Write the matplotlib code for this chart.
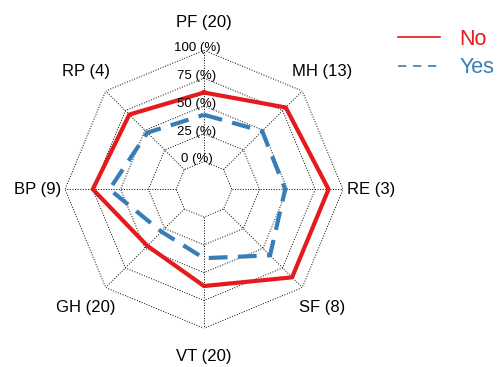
import numpy as np
import matplotlib.pyplot as plt
from matplotlib.lines import Line2D

plt.rcParams['font.family'] = ['Liberation Sans', 'DejaVu Sans']

# domains, clockwise from the top
domains = ["PF (20)", "MH (13)", "RE (3)", "SF (8)", "VT (20)", "GH (20)", "BP (9)", "RP (4)"]
no_vals = [62, 79, 87, 87, 62, 47, 75, 70]
yes_vals = [42, 49, 48, 59, 37, 29, 60, 47]
ring_levels = [0, 25, 50, 75, 100]
ring_labels = ["0 (%)", "25 (%)", "50 (%)", "75 (%)", "100 (%)"]

red = "#e41a1c"
blue = "#377eb8"

n = len(domains)
theta = np.arange(n) * 2 * np.pi / n
theta_c = np.append(theta, theta[0])

fig = plt.figure(figsize=(5, 3.67), dpi=100)
ax = fig.add_axes([0.13, 0.1055, 0.556, 0.7575], projection="polar")
ax.set_theta_zero_location("N")
ax.set_theta_direction(-1)
ax.set_rlim(-25, 100)
ax.grid(False)
ax.spines["polar"].set_visible(False)
ax.set_xticks([])
ax.set_yticks([])

# octagon rings and spokes
for lv in ring_levels:
    ax.plot(theta_c, [lv] * (n + 1), color="black", lw=0.7, ls=":", zorder=1)
for t in theta:
    ax.plot([t, t], [0, 100], color="black", lw=0.7, ls=":", zorder=1)

for lv, lab in zip(ring_levels, ring_labels):
    ax.annotate(lab, (0, lv), xytext=(-5, 1.5), textcoords="offset points",
                ha="center", va="center", fontsize=9.5, zorder=5)

ax.plot(theta_c, no_vals + no_vals[:1], color=red, lw=3, zorder=3)
ax.plot(theta_c, yes_vals + yes_vals[:1], color=blue, lw=3, ls=(0, (4.5, 2.5)), zorder=3)

for t, lab in zip(theta, domains):
    ax.text(t, 125, lab, ha="center", va="center", fontsize=12)

handles = [Line2D([], [], color=red, lw=1.2),
           Line2D([], [], color=blue, lw=1.2, ls=(0, (5, 4)))]
fig.legend(handles, ["No", "Yes"], loc="upper left", bbox_to_anchor=(0.757, 0.975),
           frameon=False, fontsize=15.5, labelcolor="linecolor",
           handlelength=1.95, handletextpad=0.9, labelspacing=0.35)

fig.savefig("out.png", dpi=100)
